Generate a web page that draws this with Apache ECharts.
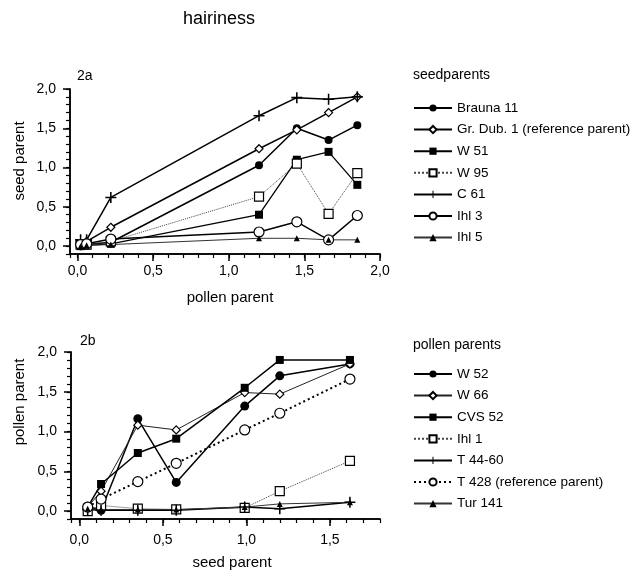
<!DOCTYPE html>
<html>
<head>
<meta charset="utf-8">
<script src="https://cdn.jsdelivr.net/npm/echarts@6/dist/echarts.min.js"></script>
<style>
  html, body { margin: 0; padding: 0; background: #fff; }
  #chart { width: 644px; height: 573px; }
</style>
</head>
<body>
<div id="chart"></div>
<script>
// 2a: seed parents, x = pollen parent
const xA = [0.02, 0.06, 0.22, 1.2, 1.45, 1.66, 1.85];
const brauna11 = [0.0, 0.02, 0.05, 1.03, 1.5, 1.35, 1.54];
const grDub1 = [0.03, 0.06, 0.24, 1.24, 1.48, 1.7, 1.9];
const w51 = [0.0, 0.01, 0.03, 0.4, 1.1, 1.2, 0.78];
const w95 = [0.02, 0.02, 0.06, 0.63, 1.05, 0.41, 0.93];
const c61 = [0.08, 0.08, 0.62, 1.66, 1.89, 1.87, 1.9];
const ihl3 = [0.02, 0.03, 0.09, 0.18, 0.31, 0.08, 0.39];
const ihl5 = [0.0, 0.01, 0.02, 0.1, 0.1, 0.08, 0.08];

// 2b: pollen parents, x = seed parent
const xB = [0.05, 0.13, 0.35, 0.58, 0.99, 1.2, 1.62];
const w52 = [0.06, 0.01, 1.16, 0.36, 1.32, 1.7, 1.85];
const w66 = [0.05, 0.25, 1.08, 1.02, 1.49, 1.47, 1.85];
const cvs52 = [0.05, 0.34, 0.73, 0.91, 1.55, 1.9, 1.9];
const ihl1 = [0.0, 0.07, 0.03, 0.02, 0.04, 0.25, 0.63];
const t4460 = [0.02, 0.01, 0.01, 0.01, 0.05, 0.03, 0.11];
const t428 = [0.05, 0.15, 0.37, 0.6, 1.02, 1.23, 1.66];
const tur141 = [0.03, 0.02, 0.02, 0.02, 0.05, 0.09, 0.11];

const FONT = "'Liberation Sans', Arial, sans-serif";
const PLUS = 'path://M4.3,0H5.7V4.3H10V5.7H5.7V10H4.3V5.7H0V4.3H4.3Z';

function pairs(xs, ys) {
  return xs.map((x, i) => [x, ys[i]]);
}
function comma(v) {
  return v.toFixed(1).replace('.', ',');
}

// one line series; open markers get white fill + black border
function ser(name, xs, ys, grid, symbol, size, open, line) {
  return {
    name: name,
    type: 'line',
    xAxisIndex: grid * 2,
    yAxisIndex: grid * 2,
    data: pairs(xs, ys),
    symbol: symbol,
    symbolSize: size,
    showAllSymbol: true,
    animation: false,
    lineStyle: Object.assign({ color: '#000', width: 1.5, type: 'solid' }, line || {}),
    itemStyle: open
      ? { color: '#fff', borderColor: '#000', borderWidth: 1.2 }
      : { color: '#000', borderColor: '#000', borderWidth: 0 },
  };
}

// fresh object each time (a shared one lost the ticks)
function axisLine() {
  return { show: true, onZero: false, lineStyle: { color: '#000', width: 1.5 } };
}

// major axis (labels, long ticks) + minor axis (short ticks only), same place
function xAxes(grid, max) {
  return [
    {
      type: 'value', gridIndex: grid, position: 'bottom', min: -0.05, max: max, splitNumber: 4,
      axisLine: axisLine(),
      axisTick: { show: true, length: 7, lineStyle: { color: '#000', width: 1.5 } },
      axisLabel: { color: '#000', fontSize: 14, fontFamily: FONT, margin: grid ? 14 : 10,
        formatter: comma, showMinLabel: false, showMaxLabel: max === 2 },
      splitLine: { show: false },
    },
    {
      type: 'value', gridIndex: grid, position: 'bottom', min: -0.05, max: max, splitNumber: 20,
      axisLine: axisLine(),
      axisTick: { show: true, length: 4, lineStyle: { color: '#000', width: 1.2 } },
      axisLabel: { show: false },
      splitLine: { show: false },
    },
  ];
}
function yAxes(grid) {
  return [
    {
      type: 'value', gridIndex: grid, position: 'left', min: -0.1, max: 2, splitNumber: 4,
      axisLine: axisLine(),
      axisTick: { show: true, length: 7, lineStyle: { color: '#000', width: 1.5 } },
      axisLabel: { color: '#000', fontSize: 14, fontFamily: FONT, margin: 14,
        formatter: comma, showMinLabel: false },
      splitLine: { show: false },
    },
    {
      type: 'value', gridIndex: grid, position: 'left', min: -0.1, max: 2, splitNumber: 21,
      axisLine: axisLine(),
      axisTick: { show: true, length: 4, lineStyle: { color: '#000', width: 1.2 } },
      axisLabel: { show: false },
      splitLine: { show: false },
    },
  ];
}

const topSeries = [
  ser('Brauna 11', xA, brauna11, 0, 'circle', 8, false),
  ser('Gr. Dub. 1 (reference parent)', xA, grDub1, 0, 'diamond', 8, true),
  ser('W 51', xA, w51, 0, 'rect', 8, false, { width: 1.3 }),
  ser('W 95', xA, w95, 0, 'rect', 9, true, { width: 1, color: '#444', type: 'dotted' }),
  ser('C 61', xA, c61, 0, PLUS, 11, false),
  ser('Ihl 3', xA, ihl3, 0, 'circle', 10, true),
  ser('Ihl 5', xA, ihl5, 0, 'triangle', 6, false, { width: 1, color: '#333' }),
];
const botSeries = [
  ser('W 52', xB, w52, 1, 'circle', 9, false),
  ser('W 66', xB, w66, 1, 'diamond', 8, true, { width: 1, color: '#222' }),
  ser('CVS 52', xB, cvs52, 1, 'rect', 8, false),
  ser('Ihl 1', xB, ihl1, 1, 'rect', 9, true, { width: 1, color: '#444', type: 'dotted' }),
  ser('T 44-60', xB, t4460, 1, PLUS, 11, false),
  ser('T 428 (reference parent)', xB, t428, 1, 'circle', 10, true, { width: 2, type: [2, 3] }),
  ser('Tur 141', xB, tur141, 1, 'triangle', 6, false, { width: 1, color: '#333' }),
];

// small icon height keeps legend markers small; lineHeight keeps the row pitch
function legend(top, series) {
  return {
    orient: 'vertical', left: 408, top: top,
    itemWidth: 38, itemHeight: 9, itemGap: 7.6,
    selectedMode: false,
    textStyle: { color: '#000', fontSize: 13.5, fontFamily: FONT, lineHeight: 14 },
    data: series.map(s => s.name),
  };
}

function txt(x, y, text, size, rot, align) {
  return {
    type: 'text', x: x, y: y, rotation: rot || 0,
    style: { text: text, fill: '#000', font: size + 'px ' + FONT,
      align: align || 'center', verticalAlign: 'middle' },
  };
}

const chart = echarts.init(document.getElementById('chart'));
chart.setOption({
  backgroundColor: '#fff',
  animation: false,
  grid: [
    { left: 70, top: 89, width: 310, height: 165 },
    { left: 71, top: 352, width: 309, height: 167 },
  ],
  xAxis: xAxes(0, 2).concat(xAxes(1, 1.8)),
  yAxis: yAxes(0).concat(yAxes(1)),
  legend: [legend(96, topSeries), legend(362, botSeries)],
  graphic: [
    txt(219, 19, 'hairiness', 18),
    txt(77, 76, '2a', 14, 0, 'left'),
    txt(80, 341, '2b', 14, 0, 'left'),
    txt(413, 75, 'seedparents', 14, 0, 'left'),
    txt(413, 345, 'pollen parents', 14, 0, 'left'),
    txt(20, 161, 'seed parent', 15, Math.PI / 2),
    txt(20, 402, 'pollen parent', 15, Math.PI / 2),
    txt(230, 298, 'pollen parent', 15),
    txt(232, 563, 'seed parent', 15),
  ],
  series: topSeries.concat(botSeries),
});
</script>
</body>
</html>
